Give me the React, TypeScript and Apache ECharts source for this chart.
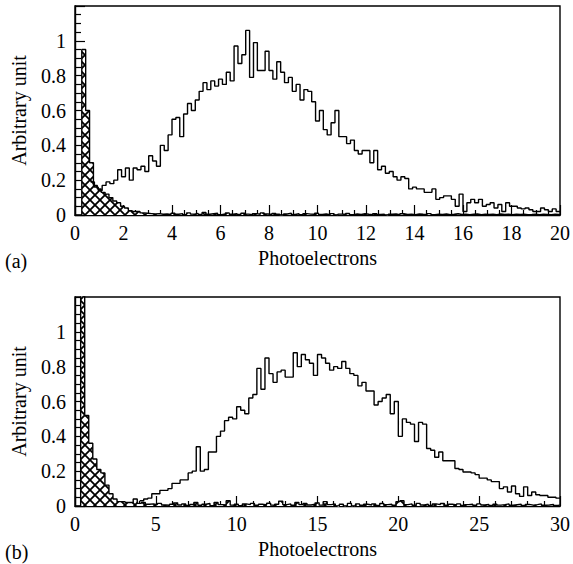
import React, { useEffect, useRef } from 'react';
import * as echarts from 'echarts';

// ---------- Panel (a) ----------
const topBinWidth = 0.16;
const topSignalStart = 0.64;
const topSignal = [
  0.19, 0.16, 0.14, 0.17, 0.19, 0.18, 0.20, 0.26, 0.22, 0.27,
  0.20, 0.27, 0.26, 0.28, 0.25, 0.34, 0.31, 0.28, 0.40, 0.37,
  0.46, 0.55, 0.56, 0.45, 0.58, 0.64, 0.60, 0.66, 0.71, 0.76,
  0.72, 0.77, 0.74, 0.78, 0.75, 0.82, 0.77, 0.97, 0.87, 0.92,
  1.06, 0.79, 0.99, 0.83, 0.83, 0.94, 0.83, 0.78, 0.88, 0.82,
  0.76, 0.79, 0.71, 0.75, 0.66, 0.72, 0.71, 0.65, 0.54, 0.60,
  0.49, 0.46, 0.53, 0.60, 0.45, 0.45, 0.41, 0.43, 0.37, 0.35,
  0.37, 0.37, 0.30, 0.37, 0.26, 0.28, 0.24, 0.25, 0.22, 0.20,
  0.22, 0.21, 0.15, 0.16, 0.15, 0.15, 0.13, 0.13, 0.15, 0.09,
  0.10, 0.11, 0.11, 0.09, 0.05, 0.12, 0.02, 0.07, 0.09, 0.07,
  0.09, 0.05, 0.06, 0.07, 0.04, 0.06, 0.02, 0.07, 0.05, 0.05,
  0.04, 0.035, 0.04, 0.03, 0.02, 0.02, 0.04, 0.03, 0.02, 0.035,
  0.02,
];
const topPedestalStart = 0.28;
const topPedestal = [
  0.95, 0.60, 0.30, 0.17, 0.15, 0.13, 0.12, 0.10, 0.08, 0.07,
  0.05, 0.04, 0.025, 0.02, 0.02, 0.012, 0.01, 0.008, 0.006, 0.008,
  0.004,
  0.006, 0.003, 0.010, 0.004, 0.008, 0.002, 0.012, 0.005, 0.009, 0.003,
  0.015, 0.004, 0.007, 0.010, 0.002, 0.006, 0.012, 0.004, 0.008, 0.003,
  0.010, 0.005, 0.002, 0.008, 0.004, 0.012, 0.006, 0.003, 0.009, 0.004,
  -0.004, 0.006, 0.010, 0.003, 0.007, 0.002, 0.008, 0.005, 0.004, 0.010,
  0.003, 0.006, 0.002, 0.008, -0.003, 0.005, 0.004, 0.009, 0.002, 0.006,
  0.003, 0.007, 0.004, 0.002, 0.008, 0.003, 0.005, -0.005, 0.004, 0.006,
  0.002, 0.007, 0.003, 0.005, 0.002, 0.006, 0.004, 0.003, 0.008, 0.002,
  0.005, 0.003, 0.006, 0.002, 0.004, 0.007, 0.003, 0.005, 0.002, 0.004,
  0.006, 0.002, 0.005, 0.003, 0.004, 0.002, 0.006, 0.003, 0.004, 0.002,
  0.005, 0.003, 0.004, 0.002, 0.003, 0.005, 0.002, 0.004, 0.003, 0.002,
  0.004, 0.003, 0.002,
];

// ---------- Panel (b) ----------
const bottomBinWidth = 0.25;
const bottomSignalStart = 4.0;
const bottomSignal = [
  0.03, 0.04, 0.045, 0.07, 0.07, 0.09, 0.09, 0.10, 0.13, 0.13,
  0.15, 0.15, 0.19, 0.20, 0.34, 0.20, 0.21, 0.31, 0.31, 0.40,
  0.43, 0.49, 0.51, 0.50, 0.57, 0.55, 0.53, 0.62, 0.64, 0.79,
  0.67, 0.85, 0.76, 0.71, 0.77, 0.78, 0.74, 0.74, 0.88, 0.80,
  0.87, 0.84, 0.82, 0.75, 0.87, 0.85, 0.82, 0.78, 0.80, 0.79,
  0.83, 0.79, 0.76, 0.75, 0.69, 0.71, 0.66, 0.66, 0.58, 0.60,
  0.62, 0.64, 0.53, 0.60, 0.40, 0.50, 0.48, 0.47, 0.37, 0.48,
  0.47, 0.33, 0.32, 0.28, 0.31, 0.26, 0.26, 0.26, 0.215, 0.21,
  0.195, 0.195, 0.19, 0.18, 0.16, 0.16, 0.15, 0.14, 0.14, 0.10,
  0.11, 0.08, 0.115, 0.07, 0.055, 0.11, 0.06, 0.08, 0.065, 0.06,
  0.06, 0.05, 0.05, 0.045,
];
const bottomPedestalStart = 0.35;
const bottomPedestal = [
  2.0, 0.52, 0.36, 0.27, 0.21, 0.19, 0.12, 0.07, 0.04, 0.025,
  0.025, 0.02, 0.02, 0.04, 0.015, 0.02, 0.01,
  0.012, 0.008, 0.015, 0.006, 0.004, 0.010, 0.018, 0.006, 0.012, 0.003,
  0.009, 0.020, 0.004, 0.010, 0.014, 0.002, 0.020, 0.008, 0.006, 0.030,
  0.005, 0.010, 0.002, 0.012, 0.008, 0.015, 0.004, 0.010, 0.006, 0.016,
  0.005, 0.010, 0.028, 0.008, 0.012, 0.004, 0.020, 0.008, 0.014, 0.006,
  0.010, 0.018, 0.005, 0.025, 0.008, 0.012, -0.012, 0.010, -0.020, 0.015,
  -0.008, 0.012, 0.004, 0.010, 0.006, 0.012, 0.003, 0.014, 0.008, 0.010,
  0.004, 0.025, 0.030, 0.008, 0.012, 0.004, 0.015, 0.006, 0.010, 0.003,
  0.012, 0.008, 0.014, 0.004, 0.010, 0.006, 0.012, 0.003, 0.008, 0.010,
  0.004, 0.012, 0.006, 0.009, 0.003, 0.010, 0.005, 0.008, 0.012, 0.004,
  0.007, 0.010, 0.003, 0.009, 0.005, 0.008, 0.012, 0.004, 0.006, 0.009,
  0.003, 0.005,
];

const topXRange = [0, 20];
const bottomXRange = [0, 30];
const yRange = [0, 1.2];

const FONT = 'Liberation Serif';

function histogram(start: number, width: number, values: number[], xMax: number, fromZero: boolean) {
  const pts: number[][] = [];
  if (fromZero) pts.push([start, 0]);
  values.forEach((v, i) => {
    const x = +(start + i * width).toFixed(4);
    if (x < xMax) pts.push([x, v]);
  });
  const last = pts[pts.length - 1];
  pts.push([Math.min(xMax, +(last[0] + width).toFixed(4)), last[1]]);
  return pts;
}

function makeHatch(): HTMLCanvasElement {
  const c = document.createElement('canvas');
  c.width = 10;
  c.height = 10;
  const ctx = c.getContext('2d')!;
  ctx.fillStyle = '#fff';
  ctx.fillRect(0, 0, 10, 10);
  ctx.strokeStyle = '#000';
  ctx.lineWidth = 1.8;
  ctx.beginPath();
  ctx.moveTo(-2, -2);
  ctx.lineTo(12, 12);
  ctx.moveTo(12, -2);
  ctx.lineTo(-2, 12);
  ctx.stroke();
  return c;
}

export default function App() {
  const ref = useRef<HTMLDivElement>(null);
  useEffect(() => {
    if (!ref.current) return;
    const chart = echarts.init(ref.current, undefined, { renderer: 'svg' });
    const hatch = { image: makeHatch(), repeat: 'repeat', imageWidth: 10, imageHeight: 10 } as any;

    const xAxisBase = (idx: number, range: number[], interval: number, minorSplit: number) => ({
      type: 'value',
      gridIndex: idx,
      min: range[0],
      max: range[1],
      interval,
      name: 'Photoelectrons',
      nameLocation: 'middle',
      nameGap: 33,
      nameTextStyle: { fontFamily: FONT, fontSize: 20, color: '#000' },
      axisLine: { show: true, lineStyle: { color: '#000', width: 1.4 } },
      axisTick: { show: true, inside: true, length: 10, lineStyle: { color: '#000', width: 1.2 } },
      minorTick: { show: true, splitNumber: minorSplit, length: 5, lineStyle: { color: '#000', width: 1.2 } },
      axisLabel: { fontFamily: FONT, fontSize: 20, color: '#000', margin: 8 },
      splitLine: { show: false },
      minorSplitLine: { show: false },
    });
    const yAxisBase = (idx: number) => ({
      type: 'value',
      gridIndex: idx,
      min: yRange[0],
      max: yRange[1],
      interval: 0.2,
      name: 'Arbitrary unit',
      nameLocation: 'middle',
      nameRotate: 90,
      nameGap: 46,
      nameTextStyle: { fontFamily: FONT, fontSize: 20, color: '#000' },
      axisLine: { show: true, lineStyle: { color: '#000', width: 1.4 } },
      axisTick: { show: true, inside: true, length: 10, lineStyle: { color: '#000', width: 1.2 } },
      minorTick: { show: true, splitNumber: 4, length: 6, lineStyle: { color: '#000', width: 1.2 } },
      axisLabel: {
        fontFamily: FONT, fontSize: 20, color: '#000', margin: 9,
        formatter: (v: number) => (v > 1.1 ? '' : String(Math.round(v * 10) / 10)),
      },
      splitLine: { show: false },
      minorSplitLine: { show: false },
    });

    const lineStyle = { color: '#000', width: 1.4 };

    chart.setOption({
      animation: false,
      backgroundColor: '#fff',
      textStyle: { fontFamily: FONT },
      grid: [
        { left: 75, top: 6, width: 487, height: 209, show: true, borderColor: '#000', borderWidth: 1.4, backgroundColor: 'transparent' },
        { left: 75, top: 297, width: 487, height: 209, show: true, borderColor: '#000', borderWidth: 1.4, backgroundColor: 'transparent' },
      ],
      xAxis: [xAxisBase(0, topXRange, 2, 4), xAxisBase(1, bottomXRange, 5, 5)],
      yAxis: [yAxisBase(0), yAxisBase(1)],
      graphic: [
        { type: 'text', x: 5, y: 261, style: { text: '(a)', fontFamily: FONT, fontSize: 20, fill: '#000', verticalAlign: 'middle' } },
        { type: 'text', x: 5, y: 552, style: { text: '(b)', fontFamily: FONT, fontSize: 20, fill: '#000', verticalAlign: 'middle' } },
      ],
      series: [
        {
          type: 'line', xAxisIndex: 0, yAxisIndex: 0, step: 'end', symbol: 'none',
          data: histogram(topPedestalStart, topBinWidth, topPedestal, topXRange[1], true),
          lineStyle, areaStyle: { color: hatch, opacity: 1 },
        },
        {
          type: 'line', xAxisIndex: 0, yAxisIndex: 0, step: 'end', symbol: 'none',
          data: histogram(topSignalStart, topBinWidth, topSignal, topXRange[1], false),
          lineStyle,
        },
        {
          type: 'line', xAxisIndex: 1, yAxisIndex: 1, step: 'end', symbol: 'none',
          data: histogram(bottomPedestalStart, bottomBinWidth, bottomPedestal, bottomXRange[1], true),
          lineStyle, areaStyle: { color: hatch, opacity: 1 },
        },
        {
          type: 'line', xAxisIndex: 1, yAxisIndex: 1, step: 'end', symbol: 'none',
          data: histogram(bottomSignalStart, bottomBinWidth, bottomSignal, bottomXRange[1], false),
          lineStyle,
        },
      ],
    });
    return () => chart.dispose();
  }, []);
  return (
    <div
      ref={ref}
      style={{ position: 'fixed', left: 0, top: 0, width: 573, height: 564, background: '#fff' }}
    />
  );
}
